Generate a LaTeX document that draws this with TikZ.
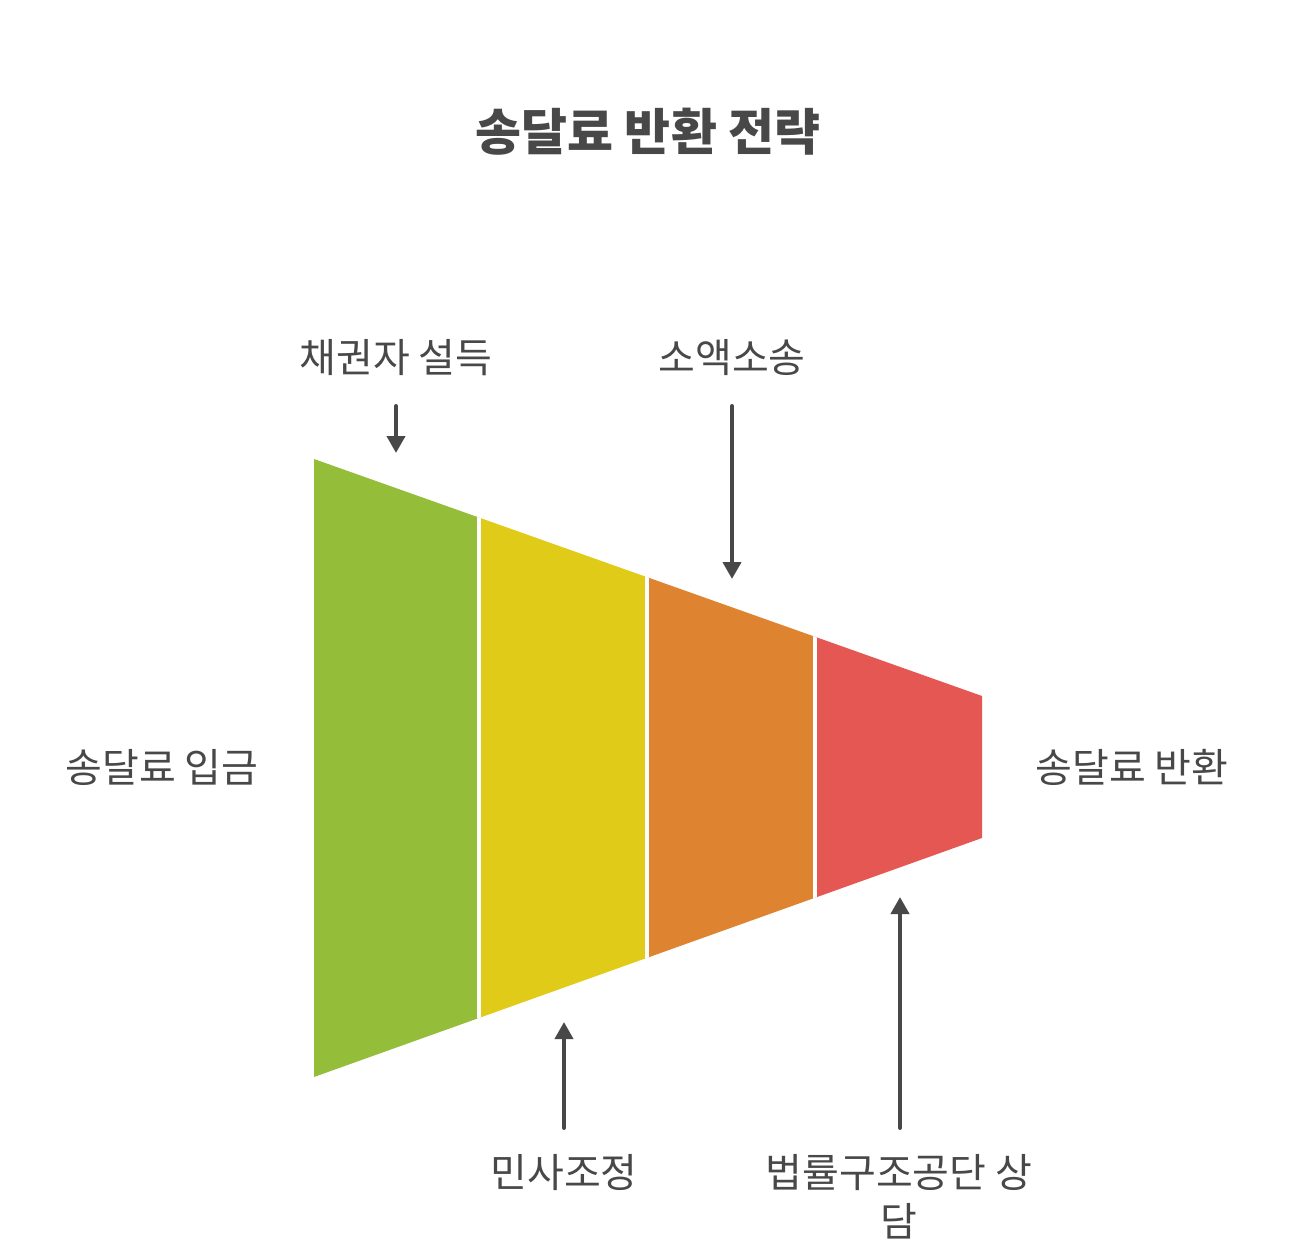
\documentclass[tikz,border=0pt]{standalone}
\usepackage{fontspec}
\setmainfont{Noto Sans CJK KR}
\usetikzlibrary{arrows.meta}
\definecolor{txt}{HTML}{484848}
\definecolor{cgreen}{HTML}{94BE3A}
\definecolor{cyellow}{HTML}{E0CC18}
\definecolor{corange}{HTML}{DE8330}
\definecolor{cred}{HTML}{E45753}
\tikzset{
  lbl/.style={text=txt, font=\fontsize{40}{49}\selectfont, inner sep=0pt, align=center},
  ttl/.style={text=txt, font=\bfseries\fontsize{50}{58}\selectfont, inner sep=0pt},
  arr/.style={draw=txt, line width=4pt, line cap=round, -{Triangle[width=18pt,length=17pt]}},
}
\begin{document}
\begin{tikzpicture}[x=1pt,y=-1pt]
\useasboundingbox (0,0) rectangle (1296,1257);
\node[ttl] (title) at (648,132) {송달료 반환 전략};
% funnel
\begin{scope}
\clip (314,459) -- (982,696) -- (982,838) -- (314,1077) -- cycle;
\fill[cgreen] (300,400) rectangle (479,1100);
\fill[cyellow] (479,400) rectangle (647,1100);
\fill[corange] (647,400) rectangle (815,1100);
\fill[cred] (815,400) rectangle (1000,1100);
\draw[white, line width=4pt] (479,400) -- (479,1100) (647,400) -- (647,1100) (815,400) -- (815,1100);
\end{scope}
% labels
\node[lbl] (l1) at (396,358) {채권자 설득};
\node[lbl] (l2) at (732,358) {소액소송};
\node[lbl] (l3) at (564,1173) {민사조정};
\node[lbl] (l4) at (899,1197) {법률구조공단 상\\담};
\node[lbl] (in) at (162,767) {송달료 입금};
\node[lbl] (out) at (1132,767) {송달료 반환};
% arrows
\coordinate (a1s) at (396,406); \coordinate (a1e) at (396,453);
\coordinate (a2s) at (732,406); \coordinate (a2e) at (732,579);
\coordinate (a3s) at (564,1128); \coordinate (a3e) at (564,1022);
\coordinate (a4s) at (900,1128); \coordinate (a4e) at (900,897);
\draw[arr] (a1s) -- (a1e);
\draw[arr] (a2s) -- (a2e);
\draw[arr] (a3s) -- (a3e);
\draw[arr] (a4s) -- (a4e);
\end{tikzpicture}
\end{document}
